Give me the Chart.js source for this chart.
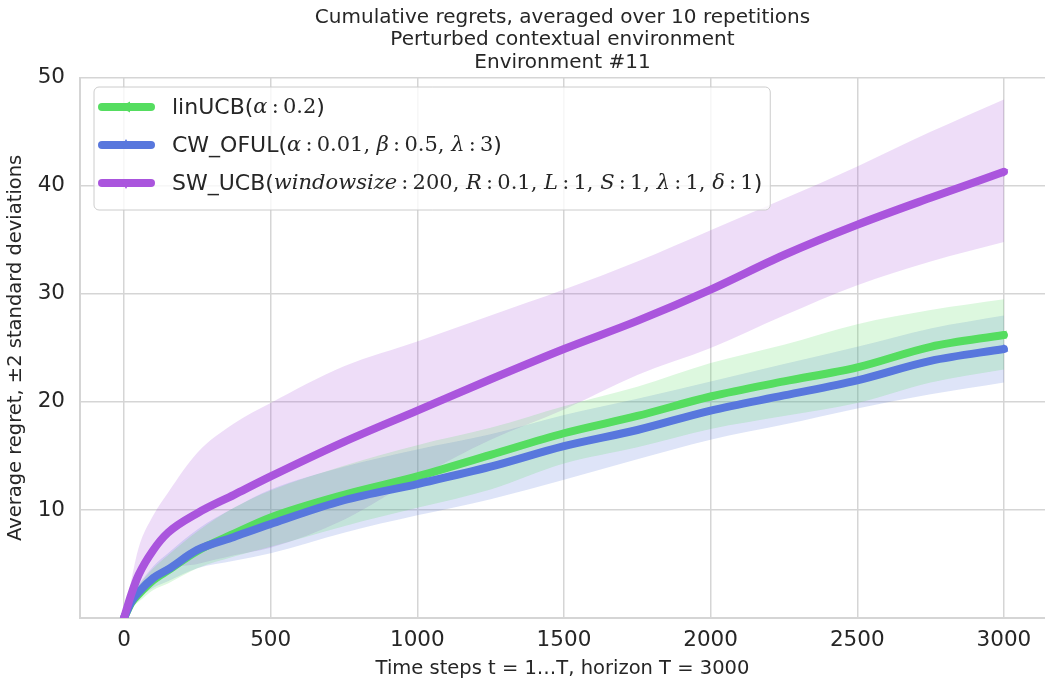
<!DOCTYPE html>
<html>
<head>
<meta charset="utf-8">
<script src="https://cdn.jsdelivr.net/npm/chart.js@4.4.1/dist/chart.umd.min.js"></script>
<style>
  html, body { margin: 0; padding: 0; background: #fff; }
  #wrap { width: 1045px; height: 681px; }
</style>
</head>
<body>
<div id="wrap"><canvas id="myChart" width="1045" height="681"></canvas></div>
<script>
const steps = [0, 25, 50, 100, 150, 250, 375, 500, 750, 1000, 1250, 1500, 1750, 2000, 2250, 2500, 2750, 3000];

// linUCB
const linMean  = [0, 1.4, 2.2, 3.5, 4.4, 6.2, 7.8, 9.3, 11.4, 13.1, 15.1, 17.1, 18.7, 20.5, 21.9, 23.2, 25.1, 26.2];
const linUpper = [0, 2.0, 3.0, 4.6, 5.8, 8.0, 10.2, 11.8, 14.1, 16.0, 17.6, 19.6, 21.4, 23.6, 25.3, 27.2, 28.5, 29.5];
const linLower = [0, 0.9, 1.5, 2.6, 3.2, 4.6, 5.7, 6.6, 8.5, 10.2, 11.9, 14.3, 15.8, 17.5, 18.7, 19.9, 21.8, 23.0];

// CW_OFUL
const cwMean  = [0, 1.5, 2.4, 3.7, 4.5, 6.3, 7.5, 8.7, 10.9, 12.4, 14.0, 15.9, 17.4, 19.2, 20.6, 22.0, 23.8, 24.9];
const cwUpper = [0, 2.1, 3.1, 4.8, 6.0, 8.2, 10.2, 11.9, 14.0, 15.6, 17.0, 18.8, 20.3, 21.9, 23.5, 25.1, 26.8, 28.0];
const cwLower = [0, 1.0, 1.8, 2.8, 3.4, 4.6, 5.3, 6.0, 7.9, 9.5, 11.0, 12.8, 14.7, 16.5, 17.9, 19.4, 20.7, 21.8];

// SW_UCB
const swMean  = [0, 2.2, 4.0, 6.3, 7.9, 9.7, 11.4, 13.1, 16.3, 19.2, 22.1, 24.9, 27.5, 30.4, 33.6, 36.4, 38.9, 41.3];
const swUpper = [0, 3.5, 6.5, 9.5, 11.6, 15.3, 18.0, 19.9, 23.3, 25.6, 28.0, 30.4, 33.0, 35.9, 38.8, 41.8, 45.0, 48.0];
const swLower = [0, 1.2, 2.0, 3.5, 4.5, 5.0, 5.8, 6.5, 9.1, 13.0, 16.5, 19.3, 22.5, 25.0, 28.0, 30.8, 33.0, 34.8];

const xTicks = [0, 500, 1000, 1500, 2000, 2500, 3000];
const yTicks = [10, 20, 30, 40, 50];

const titleLines = [
  'Cumulative regrets, averaged over 10 repetitions',
  'Perturbed contextual environment',
  'Environment #11'
];

// legend text pieces: s = sans, i = math italic, r = math roman
const T = '\u2009:\u2009';
const legendParts = [
  [['linUCB(', 's'], ['α', 'i'], [T + '0.2', 'r'], [')', 's']],
  [['CW_OFUL(', 's'], ['α', 'i'], [T + '0.01, ', 'r'], ['β', 'i'], [T + '0.5, ', 'r'], ['λ', 'i'], [T + '3', 'r'], [')', 's']],
  [['SW_UCB(', 's'], ['windowsize', 'i'], [T + '200, ', 'r'], ['R', 'i'], [T + '0.1, ', 'r'], ['L', 'i'], [T + '1, ', 'r'],
   ['S', 'i'], [T + '1, ', 'r'], ['λ', 'i'], [T + '1, ', 'r'], ['δ', 'i'], [T + '1', 'r'], [')', 's']]
];

const green = 'rgb(85, 221, 96)';
const blue = 'rgb(88, 119, 221)';
const purple = 'rgb(170, 85, 221)';
const greenBand = 'rgba(85, 221, 96, 0.2)';
const blueBand = 'rgba(88, 119, 221, 0.2)';
const purpleBand = 'rgba(170, 85, 221, 0.2)';
const textColor = '#262626';
const gridColor = '#d5d5d5';

const pts = (ys) => steps.map((x, i) => ({ x: x, y: ys[i] }));
const lastOnly = (r) => steps.map((x, i) => i === steps.length - 1 ? r : 0);

function bandSets(lower, upper, color, idx) {
  return [
    { data: pts(lower), borderColor: 'rgba(0,0,0,0)', borderWidth: 0, pointRadius: 0, fill: false, order: 10, cubicInterpolationMode: 'monotone' },
    { data: pts(upper), borderColor: 'rgba(0,0,0,0)', borderWidth: 0, pointRadius: 0, fill: idx, backgroundColor: color, order: 10, cubicInterpolationMode: 'monotone' }
  ];
}

function lineSet(label, ys, color, rot, order) {
  return {
    label: label,
    data: pts(ys),
    borderColor: color,
    backgroundColor: color,
    borderWidth: 8,
    borderCapStyle: 'round',
    borderJoinStyle: 'round',
    pointRadius: lastOnly(5),
    pointStyle: 'triangle',
    rotation: rot,
    pointBorderWidth: 0,
    fill: false,
    cubicInterpolationMode: 'monotone',
    order: order
  };
}

const datasets = [
  ...bandSets(linLower, linUpper, greenBand, 0),
  ...bandSets(cwLower, cwUpper, blueBand, 2),
  ...bandSets(swLower, swUpper, purpleBand, 4),
  lineSet('linUCB', linMean, green, 270, 3),
  lineSet('CW_OFUL', cwMean, blue, 0, 2),
  lineSet('SW_UCB', swMean, purple, 180, 1)
];

const legendColors = [green, blue, purple];
const legendRots = [270, 0, 180];

function drawParts(ctx, parts, x, y, measureOnly) {
  let cx = x;
  parts.forEach(([txt, kind]) => {
    if (kind === 's') ctx.font = '22px "DejaVu Sans"';
    else if (kind === 'i') ctx.font = 'italic 21px "DejaVu Serif"';
    else ctx.font = '21px "DejaVu Serif"';
    if (!measureOnly) ctx.fillText(txt, cx, y);
    cx += ctx.measureText(txt).width;
  });
  return cx - x;
}

const insideLegend = {
  id: 'insideLegend',
  afterDraw(chart) {
    const ctx = chart.ctx;
    const left = 94, top = 87, rowH = 38, textX = 172;
    ctx.save();
    let maxW = 0;
    legendParts.forEach((p) => { maxW = Math.max(maxW, drawParts(ctx, p, 0, 0, true)); });
    const w = textX - left + maxW + 8;
    const h = 123;
    ctx.beginPath();
    ctx.roundRect(left, top, w, h, 5);
    ctx.fillStyle = 'rgba(255,255,255,0.8)';
    ctx.fill();
    ctx.strokeStyle = '#cccccc';
    ctx.lineWidth = 1;
    ctx.stroke();
    legendParts.forEach((parts, i) => {
      const y = top + 20 + i * rowH;
      ctx.strokeStyle = legendColors[i];
      ctx.lineWidth = 8;
      ctx.lineCap = 'round';
      ctx.beginPath();
      ctx.moveTo(102, y);
      ctx.lineTo(151, y);
      ctx.stroke();
      ctx.save();
      ctx.translate(126, y);
      ctx.rotate(legendRots[i] * Math.PI / 180);
      ctx.fillStyle = legendColors[i];
      ctx.beginPath();
      ctx.moveTo(0, -6);
      ctx.lineTo(5.5, 4);
      ctx.lineTo(-5.5, 4);
      ctx.closePath();
      ctx.fill();
      ctx.restore();
      ctx.fillStyle = textColor;
      ctx.textBaseline = 'middle';
      drawParts(ctx, parts, textX, y + 1, false);
    });
    ctx.restore();
  }
};

new Chart(document.getElementById('myChart'), {
  type: 'line',
  data: { datasets },
  options: {
    responsive: false,
    animation: false,
    events: [],
    layout: { autoPadding: false, padding: { left: 0, right: 0, top: 0, bottom: 0 } },
    plugins: {
      legend: { display: false },
      tooltip: { enabled: false },
      filler: { propagate: false },
      title: {
        display: true,
        fullSize: false,
        text: titleLines,
        color: textColor,
        font: { family: 'DejaVu Sans', size: 20, weight: 'normal', lineHeight: 1.13 },
        padding: { top: 6, bottom: 4 }
      }
    },
    scales: {
      x: {
        type: 'linear',
        min: -150,
        max: 3140,
        afterBuildTicks: (scale) => { scale.ticks = xTicks.map((v) => ({ value: v })); },
        afterFit: (scale) => { scale.height = 63; },
        grid: { color: gridColor, lineWidth: 1.5, drawTicks: false },
        border: { color: gridColor, width: 2 },
        ticks: {
          color: textColor,
          font: { family: 'DejaVu Sans', size: 21.5 },
          padding: 10,
          maxRotation: 0,
          callback: (v) => String(v)
        },
        title: {
          display: true,
          text: 'Time steps t = 1…T, horizon T = 3000',
          color: textColor,
          font: { family: 'DejaVu Sans', size: 19.5 },
          padding: { top: 0, bottom: 0 }
        }
      },
      y: {
        min: 0,
        max: 50,
        afterBuildTicks: (scale) => { scale.ticks = yTicks.map((v) => ({ value: v })); },
        afterFit: (scale) => { scale.width = 80; },
        grid: { color: gridColor, lineWidth: 1.5, drawTicks: false },
        border: { color: gridColor, width: 2 },
        ticks: {
          color: textColor,
          font: { family: 'DejaVu Sans', size: 21.5 },
          padding: 15,
          callback: (v) => String(v)
        },
        title: {
          display: true,
          text: 'Average regret, ±2 standard deviations',
          color: textColor,
          font: { family: 'DejaVu Sans', size: 19.5 },
          padding: { top: 4, bottom: 0 }
        }
      }
    }
  },
  plugins: [insideLegend]
});
</script>
</body>
</html>
